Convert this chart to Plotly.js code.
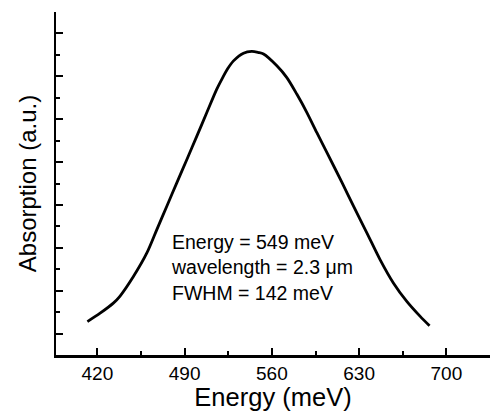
<!DOCTYPE html>
<html>
<head>
<meta charset="utf-8">
<script src="https://cdn.plot.ly/plotly-3.0.1.min.js"></script>
<style>html,body{margin:0;padding:0;background:#fff}#chart{width:492px;height:411px}</style>
</head>
<body>
<div id="chart"></div>
<script>
// Energy (meV) and absorption (a.u.)
const energy = [412.0, 422.2, 432.8, 438.2, 448.9, 459.7, 467.7, 475.7, 483.7, 491.8, 499.8, 507.8, 515.8, 519.9, 524.5, 529.2, 537.2, 543.9, 549.2, 553.3, 564.0, 572.0, 580.1, 588.1, 596.1, 604.2, 616.2, 625.5, 636.3, 646.9, 657.6, 668.4, 679.0, 686.5];
const absorption = [1.56, 1.95, 2.42, 2.75, 3.66, 4.76, 5.85, 6.94, 8.03, 9.12, 10.21, 11.31, 12.40, 12.87, 13.35, 13.72, 14.08, 14.16, 14.11, 14.04, 13.49, 12.94, 12.16, 11.31, 10.37, 9.44, 8.05, 6.94, 5.69, 4.44, 3.35, 2.49, 1.80, 1.36];
const xTickVals = [420, 490, 560, 630, 700];
const xTickText = ["420", "490", "560", "630", "700"];
const noteLines = ["Energy = 549 meV", "wavelength = 2.3 \u03bcm", "FWHM = 142 meV"];

const FONT = '"Liberation Sans", Arial, sans-serif';

const trace = {
  x: energy, y: absorption, type: 'scatter', mode: 'lines',
  line: {color: '#000', width: 2.8, shape: 'spline', smoothing: 0.8},
  hoverinfo: 'skip'
};

const layout = {
  width: 492, height: 411,
  margin: {l: 56, r: 2, t: 12, b: 56},
  paper_bgcolor: '#fff', plot_bgcolor: '#fff',
  showlegend: false,
  font: {family: FONT, color: '#000'},
  xaxis: {
    range: [386.8, 735], showgrid: false, zeroline: false,
    showline: true, linecolor: '#000', linewidth: 2.5,
    ticks: 'inside', ticklen: 7, tickwidth: 2, tickcolor: '#000',
    tickmode: 'array', tickvals: xTickVals, ticktext: xTickText,
    tickfont: {size: 19, family: FONT, color: '#000'},
    minor: {dtick: 35, tick0: 420, ticks: 'inside', ticklen: 4, tickwidth: 2, tickcolor: '#000', showgrid: false},
    title: {text: 'Energy (meV)', font: {size: 25.5, family: FONT, color: '#000'}, standoff: 5}
  },
  yaxis: {
    range: [0, 16], showgrid: false, zeroline: false,
    showline: true, linecolor: '#000', linewidth: 2.5,
    ticks: 'inside', ticklen: 7, tickwidth: 2, tickcolor: '#000',
    tick0: 1, dtick: 2, showticklabels: false,
    minor: {dtick: 1, tick0: 0, ticks: 'inside', ticklen: 4, tickwidth: 2, tickcolor: '#000', showgrid: false},
    title: {text: 'Absorption (a.u.)', font: {size: 24, family: FONT, color: '#000'}, standoff: 10}
  },
  annotations: [{
    xref: 'paper', yref: 'paper', x: 0.261, y: 0.255,
    xanchor: 'left', yanchor: 'middle', align: 'left', showarrow: false,
    text: noteLines.join('<br>'),
    font: {size: 19.5, family: FONT, color: '#000'}
  }]
};

Plotly.newPlot('chart', [trace], layout, {displayModeBar: false, staticPlot: true});
</script>
</body>
</html>
